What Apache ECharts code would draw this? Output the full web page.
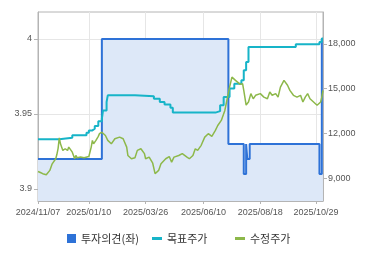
<!DOCTYPE html>
<html>
<head>
<meta charset="utf-8">
<script src="https://cdn.jsdelivr.net/npm/echarts@6/dist/echarts.min.js"></script>
<style>html,body{margin:0;padding:0;background:#fff}#c{width:370px;height:255px}</style>
</head>
<body>
<div id="c"></div>
<script>
// Korean market closing days in the period (category axis = trading days)
const holidays = ['2024-12-25','2024-12-31','2025-01-01','2025-01-27','2025-01-28','2025-01-29','2025-01-30','2025-03-03','2025-05-01','2025-05-05','2025-05-06','2025-06-03','2025-06-06','2025-08-15','2025-10-03','2025-10-06','2025-10-07','2025-10-08','2025-10-09'];
const startDate = '2024-11-07';
const dayCount = 242;

const tickLabels = ['2024/11/07','2025/01/10','2025/03/26','2025/06/10','2025/08/18','2025/10/29'];
const leftTicks = [3.9, 3.95, 4];
const rightTicks = [9000, 12000, 15000, 18000];

// 투자의견 (trading-day index, value) change points
const opinion = [[0,3.92],[54,4.0],[161,3.93],[174,3.91],[176,3.93],[177,3.92],[179,3.93],[238,3.91],[240,4.0],[241,4.0]];

// 목표주가 change points
const target = [[0,11600],[18,11700],[29,11880],[41,12040],[43,12200],[46,12310],[48,12490],[51,12820],[54,12980],[55,13540],[58,14100],[59,14550],[82,14480],[98,14320],[103,14100],[107,13940],[112,13720],[114,13390],[150,13490],[154,13880],[157,14430],[162,15000],[166,15330],[172,15550],[174,16220],[176,16780],[178,17790],[218,17970],[238,18120],[240,18350],[241,18350]];

// 수정주가
const price = [[0,9450],[2,9380],[4,9300],[7,9230],[10,9520],[12,9960],[15,10300],[16,10600],[17,11000],[18,11700],[19,11300],[21,10860],[23,10970],[25,10860],[26,11080],[29,10740],[31,10300],[32,10520],[33,10370],[36,10410],[39,10370],[43,10450],[45,11080],[46,11530],[47,11300],[49,11530],[51,11800],[52,11980],[54,12080],[57,11860],[59,11530],[62,11300],[65,11640],[69,11750],[72,11640],[75,11080],[76,10520],[79,10300],[82,10370],[84,10860],[87,10970],[90,10640],[91,10300],[94,10410],[97,10000],[99,9300],[102,9520],[104,9960],[108,10300],[111,10450],[113,10070],[115,10410],[119,10520],[122,10640],[126,10410],[128,10300],[131,10520],[133,10970],[135,10860],[138,11200],[141,11750],[144,11980],[147,11800],[150,12200],[152,12530],[153,12420],[155,12870],[158,13540],[160,14320],[162,15100],[164,15770],[167,15550],[168,15600],[171,15280],[173,15330],[174,14880],[176,13900],[178,14100],[180,14660],[182,14320],[184,14550],[185,14550],[188,14660],[191,14430],[194,14320],[196,14770],[198,14550],[201,14660],[203,14430],[205,15100],[208,15550],[211,15220],[213,14880],[216,14550],[219,14430],[222,14550],[224,14100],[226,14430],[228,14660],[230,14320],[233,14100],[236,13880],[237,13760],[239,14100],[240,14430],[241,14880]];

// build trading-day categories
const categories = [];
(function(){
  const d = new Date(startDate + 'T00:00:00Z');
  while (categories.length < dayCount) {
    const iso = d.toISOString().slice(0,10);
    const wd = d.getUTCDay();
    if (wd !== 0 && wd !== 6 && holidays.indexOf(iso) < 0) categories.push(iso.replace(/-/g,'/'));
    d.setUTCDate(d.getUTCDate() + 1);
  }
})();

const isTick = (i, v) => tickLabels.indexOf(v) >= 0;
const gridColor = '#e6e6e6';
const axisColor = '#b4b4b4';
const labelFont = {fontFamily:'Liberation Sans', fontSize:9, color:'#555'};
const legendText = {fontFamily:'Noto Sans CJK KR', fontSize:11, color:'#333'};

const chart = echarts.init(document.getElementById('c'), null, {renderer:'canvas'});
chart.setOption({
  animation:false,
  grid:{left:38, right:47, top:12, bottom:54, show:true, borderColor:axisColor, borderWidth:1, backgroundColor:'transparent'},
  xAxis:{
    type:'category', data:categories, boundaryGap:false,
    axisLine:{lineStyle:{color:axisColor}},
    axisTick:{show:true, length:3, interval:isTick, lineStyle:{color:axisColor}},
    axisLabel:Object.assign({interval:isTick, margin:7}, labelFont),
    splitLine:{show:true, interval:isTick, lineStyle:{color:gridColor}}
  },
  yAxis:[
    {type:'value', position:'left', min:3.892, max:4.018,
     axisLine:{show:true, lineStyle:{color:axisColor}},
     axisTick:{show:true, length:4, customValues:leftTicks, lineStyle:{color:axisColor}},
     axisLabel:Object.assign({customValues:leftTicks, margin:6, formatter:v=>String(+v.toFixed(2))}, labelFont),
     splitLine:{show:true, lineStyle:{color:gridColor}}},
    {type:'value', position:'right', min:7470, max:20130,
     axisLine:{show:true, lineStyle:{color:axisColor}},
     axisTick:{show:true, length:4, customValues:rightTicks, lineStyle:{color:axisColor}},
     axisLabel:Object.assign({customValues:rightTicks, margin:5, formatter:v=>Math.round(v).toLocaleString('en-US')}, labelFont),
     splitLine:{show:false}}
  ],
  legend:[
    {left:62, top:228, itemWidth:9, itemHeight:9, textStyle:legendText, data:[{name:'투자의견(좌)', icon:'rect'}]},
    {left:147, top:228, itemWidth:10, itemHeight:3, textStyle:legendText, data:[{name:'목표주가', icon:'rect'}]},
    {left:230, top:228, itemWidth:10, itemHeight:3, textStyle:legendText, data:[{name:'수정주가', icon:'rect'}]}
  ],
  series:[
    {name:'투자의견(좌)', type:'line', yAxisIndex:0, step:'end', data:opinion, symbol:'none', color:'#2e72d7',
     lineStyle:{width:2, color:'#2e72d7'}, areaStyle:{color:'#dde8f8', opacity:1}, z:1},
    {name:'목표주가', type:'line', yAxisIndex:1, step:'end', data:target, symbol:'none', color:'#17b4c8',
     lineStyle:{width:2, color:'#17b4c8'}, z:2},
    {name:'수정주가', type:'line', yAxisIndex:1, data:price, symbol:'none', color:'#8db84a',
     lineStyle:{width:1.5, color:'#8db84a'}, z:3}
  ]
});
</script>
</body>
</html>
